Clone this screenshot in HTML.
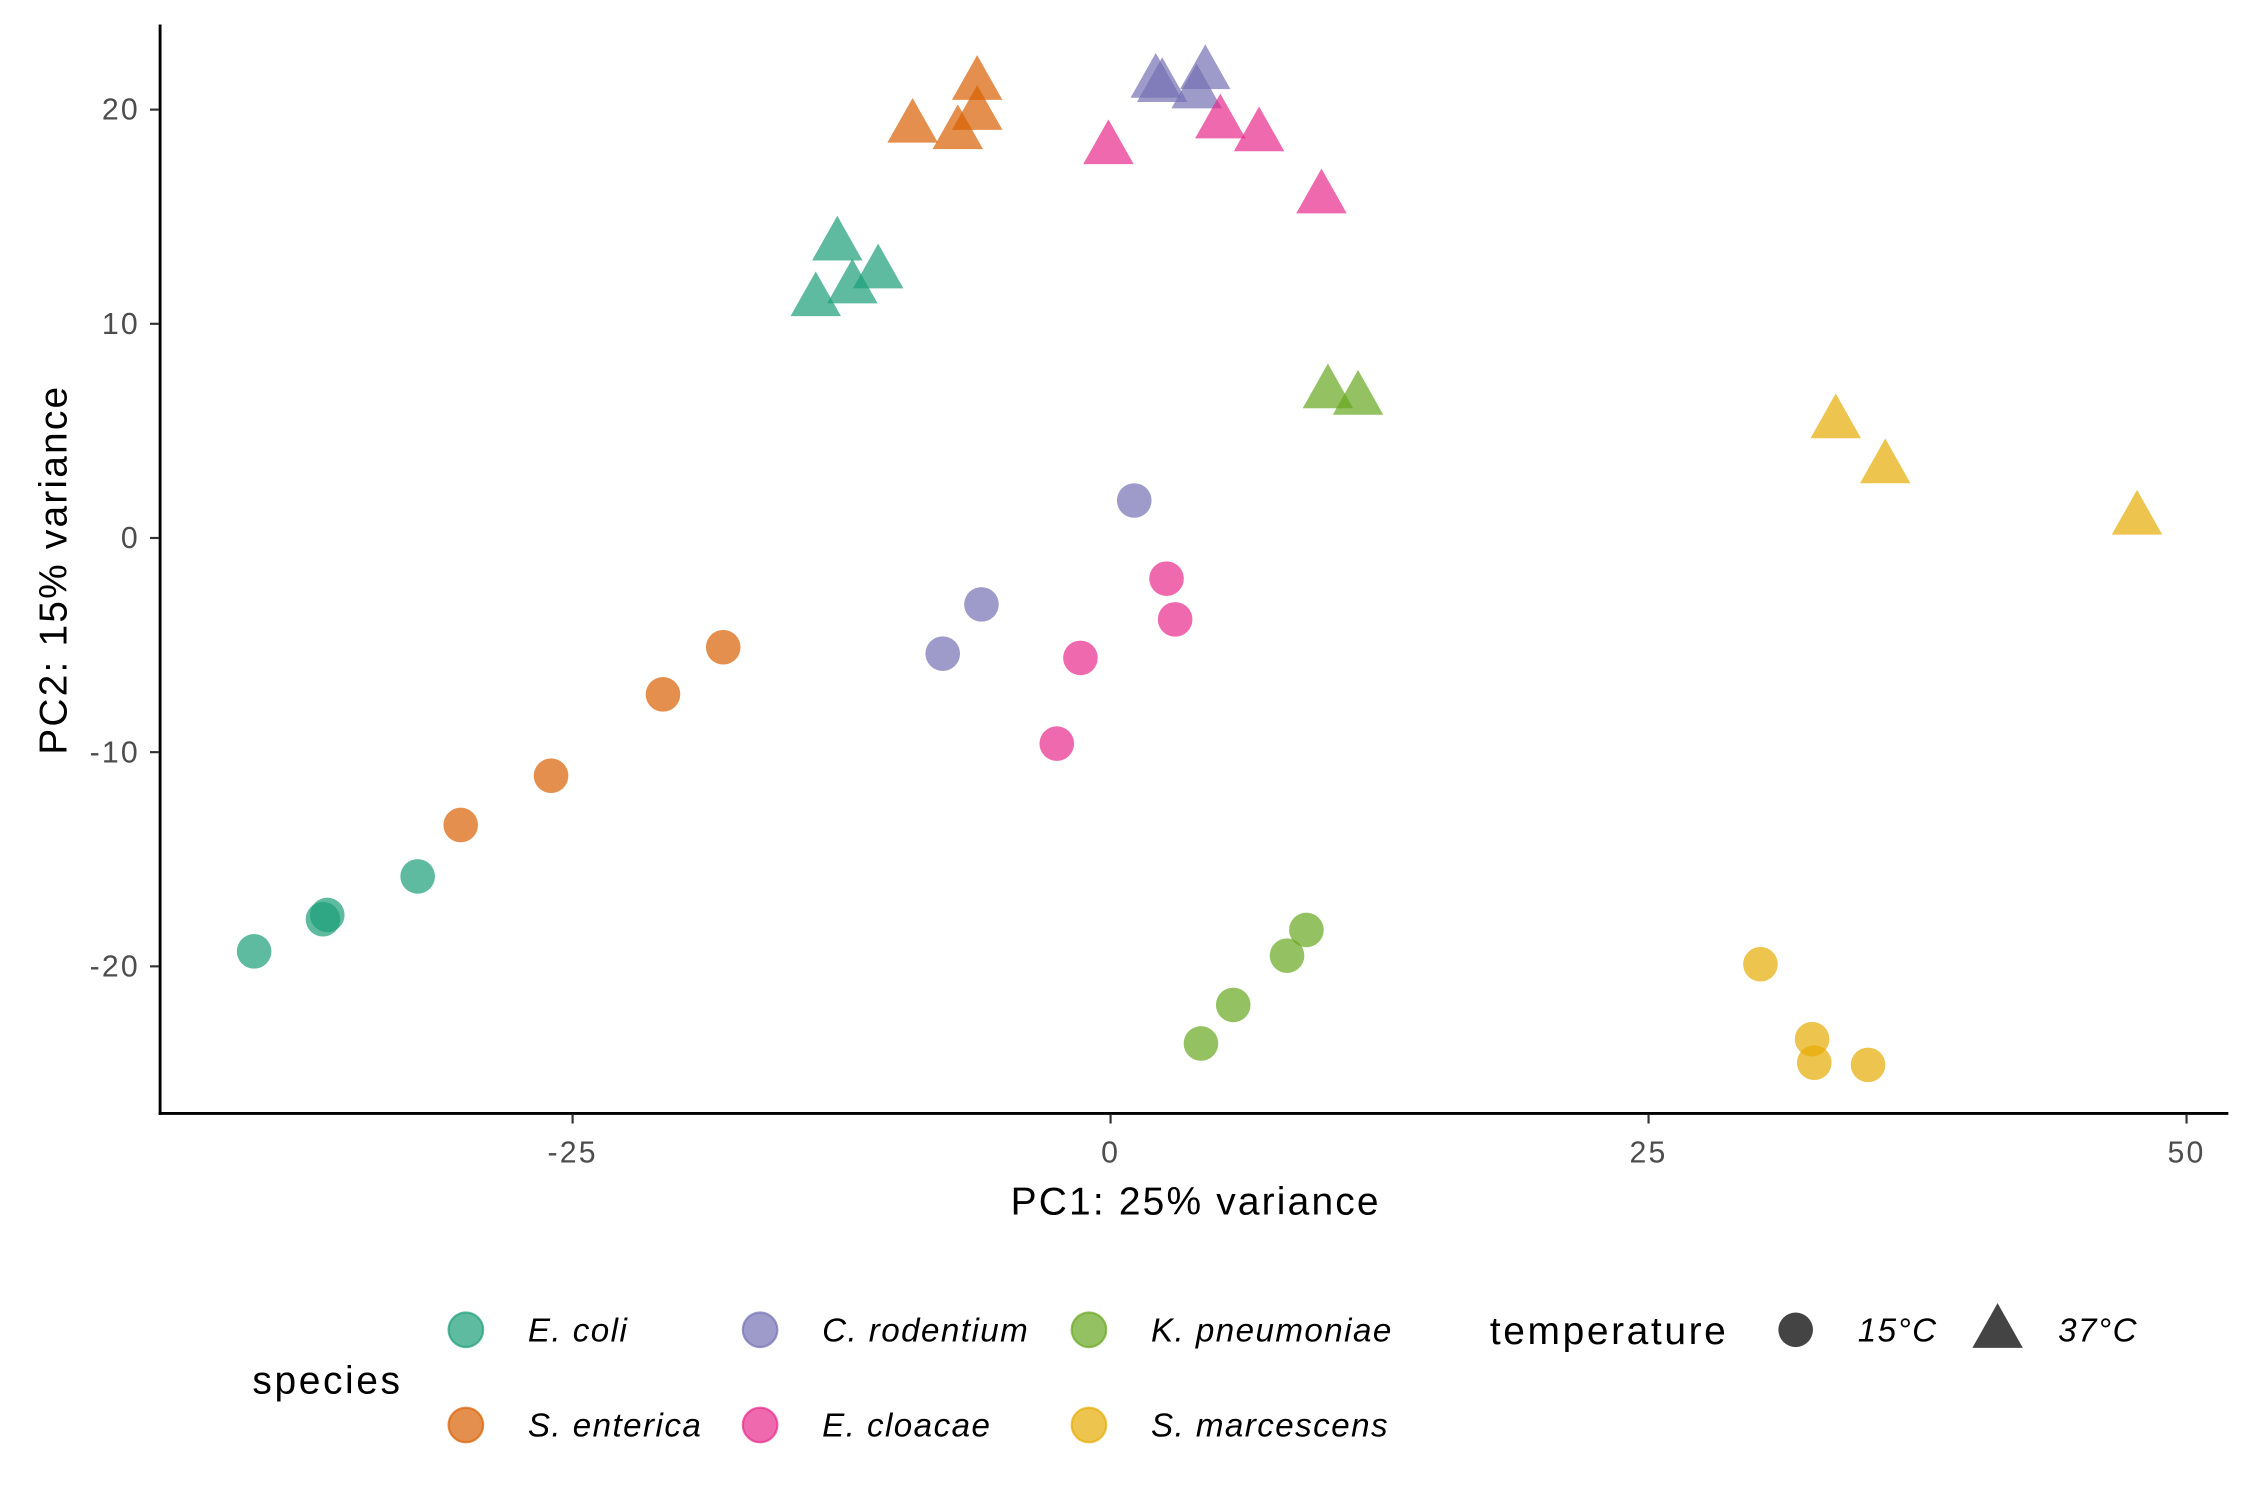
<!DOCTYPE html>
<html><head><meta charset="utf-8"><style>
html,body{margin:0;padding:0;background:#fff;}
svg{display:block;font-family:"Liberation Sans",sans-serif;}
</style></head><body>
<svg id="chart" width="2250" height="1500" viewBox="0 0 1560 1040" xmlns="http://www.w3.org/2000/svg">
<g id="plot"></g>
<g id="axes">
  <line x1="111" y1="17" x2="111" y2="773" stroke="#000" stroke-width="2"/>
  <line x1="110" y1="772" x2="1545" y2="772" stroke="#000" stroke-width="2"/>
</g>
<text x="829" y="842" font-size="27" letter-spacing="1.5" text-anchor="middle" fill="#000">PC1: 25% variance</text>
<text transform="translate(46,395) rotate(-90)" font-size="27" letter-spacing="1.5" text-anchor="middle" fill="#000">PC2: 15% variance</text>
<g id="legend">
  <text x="175" y="966" font-size="27" letter-spacing="1.8" fill="#000">species</text>
  <text x="1033" y="932" font-size="27" letter-spacing="1.8" fill="#000">temperature</text>
</g>
<script>
const NS="http://www.w3.org/2000/svg";
const speciesNames=["E. coli","S. enterica","C. rodentium","E. cloacae","K. pneumoniae","S. marcescens"];
const speciesColors=["#1B9E77","#D95F02","#7570B3","#E7298A","#66A61E","#E6AB02"];
const xTicks=[-25,0,25,50];
const yTicks=[-20,-10,0,10,20];
// circles (15°C): species index, PC1, PC2
const c15Species=[0,0,0,0,1,1,1,1,2,2,2,3,3,3,3,4,4,4,4,5,5,5,5];
const c15PC1=[-39.8,-36.6,-36.4,-32.2,-30.2,-26.0,-20.8,-18.0,-7.8,-6.0,1.1,-2.5,-1.4,2.6,3.0,4.2,5.7,8.2,9.1,30.2,32.6,32.7,35.2];
const c15PC2=[-19.3,-17.8,-17.6,-15.8,-13.4,-11.1,-7.3,-5.1,-5.4,-3.1,1.75,-9.6,-5.6,-1.9,-3.8,-23.6,-21.8,-19.5,-18.3,-19.9,-23.4,-24.5,-24.6];
// triangles (37°C)
const t37Species=[0,0,0,0,1,1,1,1,2,2,2,2,3,3,3,3,4,4,5,5,5];
const t37PC1=[-12.7,-13.7,-12.0,-10.8,-6.2,-9.2,-7.1,-6.2,2.1,2.4,4.4,4.0,-0.1,5.1,6.9,9.8,10.1,11.5,33.7,36.0,47.7];
const t37PC2=[14.0,11.4,12.0,12.7,21.5,19.5,19.2,20.1,21.6,21.4,22.0,21.1,18.5,19.7,19.1,16.2,7.1,6.8,5.7,3.6,1.2];

function xS(v){return 770+14.92*v;}
function yS(v){return 373-14.85*v;}
function mk(tag,attrs,parent){const e=document.createElementNS(NS,tag);for(const k in attrs)e.setAttribute(k,attrs[k]);parent.appendChild(e);return e;}
function tri(cx,cy,w,h){return `${cx},${cy-h/2} ${cx-w/2},${cy+h/2} ${cx+w/2},${cy+h/2}`;}

const axes=document.getElementById('axes');
xTicks.forEach(t=>{
  const l=mk('line',{x1:xS(t),x2:xS(t),y1:773,y2:779,stroke:'#333','stroke-width':1.5},axes);
  
  
  const tx=mk('text',{x:xS(t),y:806,'font-size':21,'letter-spacing':1.5,'text-anchor':'middle',fill:'#4d4d4d'},axes);
  tx.textContent=t;
  
  
});
yTicks.forEach(t=>{
  const l=mk('line',{x1:104,x2:110,y1:yS(t),y2:yS(t),stroke:'#333','stroke-width':1.5},axes);
  
  
  const tx=mk('text',{x:97,y:yS(t)+7,'font-size':21,'letter-spacing':1.5,'text-anchor':'end',fill:'#4d4d4d'},axes);
  tx.textContent=t;
  
  
});

const plot=document.getElementById('plot');
c15PC1.forEach((v,i)=>{
  const c=mk('circle',{cx:xS(v),cy:yS(c15PC2[i]),r:12,fill:speciesColors[c15Species[i]],'fill-opacity':0.7},plot);
  
  
});
t37PC1.forEach((v,i)=>{
  const p=mk('polygon',{points:tri(xS(v),yS(t37PC2[i]),35,31),fill:speciesColors[t37Species[i]],'fill-opacity':0.7},plot);
  
  
});

const leg=document.getElementById('legend');
const colKeyX=[323,527,755];
const rowY=[922,988];
speciesNames.forEach((n,i)=>{
  const col=Math.floor(i/2), row=i%2;
  const c=mk('circle',{cx:colKeyX[col],cy:rowY[row],r:12,fill:speciesColors[i],'fill-opacity':0.7,stroke:speciesColors[i],'stroke-opacity':0.7,'stroke-width':1.5},leg);
  
  
  const t=mk('text',{x:colKeyX[col]+43,y:rowY[row]+8,'font-size':23,'letter-spacing':1,'font-style':'italic',fill:'#000'},leg);
  t.textContent=n;
  
  
});
const k1=mk('circle',{cx:1245,cy:922,r:12,fill:'#444'},leg);


const l1=mk('text',{x:1288,y:930,'font-size':23,'letter-spacing':1,'font-style':'italic',fill:'#000'},leg);
l1.textContent='15°C';


const k2=mk('polygon',{points:tri(1385,919,35,31),fill:'#444'},leg);


const l2=mk('text',{x:1427,y:930,'font-size':23,'letter-spacing':1,'font-style':'italic',fill:'#000'},leg);
l2.textContent='37°C';


</script>
</svg>
</body></html>
